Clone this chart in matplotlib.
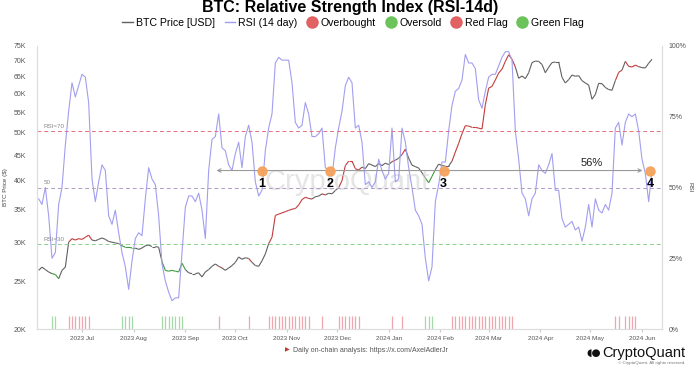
import pandas as pd
import matplotlib
matplotlib.use("Agg")
import matplotlib.pyplot as plt
import matplotlib.dates as mdates
from matplotlib.collections import LineCollection
from matplotlib.lines import Line2D
from matplotlib.ticker import FixedLocator, FuncFormatter, NullLocator

plt.rcParams['font.family'] = ['Liberation Sans', 'DejaVu Sans']

# data, one point every 2 days (2023-06-05 .. 2024-06-07)
dates = pd.date_range("2023-06-05", "2024-06-07", freq="2D")

price_k = [
    26.3, 26.7, 26.4, 26.1, 25.9, 25.8, 25.3, 26.3, 26.7, 30.0,
    30.5, 30.3, 30.5, 30.4, 30.7, 31.0, 30.3, 30.2, 30.4, 30.6,
    30.4, 30.1, 30.0, 29.9, 29.8, 29.5, 29.3, 29.3, 29.2, 29.2,
    29.0, 29.2, 29.5, 29.6, 29.4, 29.4, 29.3, 27.4, 26.3, 26.2,
    26.3, 26.2, 26.1, 27.2, 26.4, 26.0, 25.9, 25.9, 26.0, 25.5,
    26.1, 26.4, 26.8, 27.1, 26.8, 26.6, 26.3, 26.6, 26.9, 27.3,
    28.0, 27.7, 27.9, 27.8, 27.3, 26.9, 26.8, 27.5, 28.4, 29.8,
    30.7, 34.0, 34.2, 34.4, 34.6, 34.8, 35.0, 35.1, 35.7, 36.6,
    37.0, 36.8, 36.7, 37.1, 37.2, 37.6, 37.4, 37.7, 37.6, 38.2,
    38.7, 40.0, 42.9, 43.8, 43.8, 42.3, 42.0, 42.6, 42.3, 43.3,
    43.0, 42.7, 43.3, 42.9, 43.4, 43.1, 43.7, 44.0, 44.4, 45.2,
    46.3, 44.4, 43.0, 42.7, 42.4, 41.5, 40.5, 39.6, 40.8, 42.1,
    43.2, 42.9, 42.8, 42.8, 43.8, 45.7, 47.6, 49.8, 51.7, 51.6,
    51.3, 51.3, 51.1, 50.9, 57.0, 61.6, 62.1, 64.0, 66.1, 67.3,
    69.8, 72.0, 70.5, 68.0, 64.5, 65.2, 64.4, 66.2, 69.4, 69.9,
    69.8, 68.8, 66.2, 67.9, 69.4, 69.6, 69.6, 64.8, 63.1, 64.1,
    65.5, 65.1, 65.3, 63.8, 63.1, 62.5, 58.5, 59.8, 63.0, 62.9,
    61.8, 61.2, 61.0, 63.8, 66.3, 67.0, 69.8, 68.2, 68.0, 68.6,
    68.1, 67.8, 67.7, 69.2, 70.5,
]

rsi = [
    46, 44, 50, 40, 25, 27, 44, 50, 65, 77,
    87, 82, 86, 90, 89, 80, 53, 45, 52, 58,
    56, 40, 37, 42, 34, 27, 22, 14, 24, 32,
    34, 33, 46, 57, 53, 51, 40, 23, 17, 13,
    10, 11, 11, 27, 43, 47, 47, 45, 48, 42,
    32, 56, 67, 68, 76, 64, 63, 58, 56, 62,
    66, 57, 68, 72, 66, 52, 47, 49, 63, 71,
    76, 94, 96, 95, 95, 95, 87, 73, 71, 72,
    80, 76, 68, 68, 69, 71, 57, 56, 54, 64,
    71, 77, 86, 89, 87, 71, 72, 66, 51, 52,
    50, 52, 60, 56, 53, 55, 71, 52, 53, 71,
    66, 57, 50, 42, 40, 37, 25, 17, 22, 45,
    51, 59, 59, 70, 79, 84, 85, 88, 97, 94,
    94, 92, 81, 78, 84, 89, 90, 90, 93, 96,
    98, 98, 95, 70, 60, 48, 46, 40, 46, 48,
    58, 56, 55, 58, 62, 49, 49, 39, 36, 37,
    38, 35, 36, 31, 36, 44, 36, 46, 42, 41,
    44, 42, 48, 71, 73, 65, 73, 76, 75, 76,
    70, 60, 55, 45, 56,
]

overbought, oversold = 70, 30

marker_dates = pd.to_datetime(["2023-10-17", "2023-11-27", "2024-02-03", "2024-06-06"])
marker_labels = ["1", "2", "3", "4"]
marker_rsi = 56
arrow_start, arrow_end = pd.Timestamp("2023-09-18"), pd.Timestamp("2024-06-03")
gain_label = "56%"
gain_pos = (pd.Timestamp("2024-05-02"), 58.5)

price_ticks = [20, 25, 30, 35, 40, 45, 50, 55, 60, 65, 70, 75]
rsi_ticks = [0, 25, 50, 75, 100]

GRAY = "#606060"
RED = "#c23b3b"
GREEN = "#3f9b3f"
LAV = "#a29ef0"

fig = plt.figure(figsize=(7, 3.7), dpi=100)
ax = fig.add_axes([37 / 700, 41 / 370, 625 / 700, 283 / 370])
ax2 = ax.twinx()

x = mdates.date2num(dates)
prices = [p * 1000 for p in price_k]

# price line, coloured by RSI state
segs, cols = [], []
for i in range(len(x) - 1):
    segs.append([(x[i], prices[i]), (x[i + 1], prices[i + 1])])
    if rsi[i] > overbought:
        cols.append(RED)
    elif rsi[i] < oversold:
        cols.append(GREEN)
    else:
        cols.append(GRAY)
ax.add_collection(LineCollection(segs, colors=cols, linewidths=0.8, zorder=3))

# daily flags at the bottom
red_days = [d for d, r in zip(x, rsi) if r > overbought]
green_days = [d for d, r in zip(x, rsi) if r < oversold]
ax.vlines(red_days, 20000, 21300, color="#e0606c", alpha=0.55, lw=0.9)
ax.vlines(green_days, 20000, 21300, color="#5fb85f", alpha=0.55, lw=0.9)

ax.set_yscale("log")
ax.set_ylim(20000, 75000)
ax.set_xlim(mdates.date2num(pd.Timestamp("2023-06-04")), mdates.date2num(pd.Timestamp("2024-06-13")))
ax.yaxis.set_major_locator(FixedLocator([t * 1000 for t in price_ticks]))
ax.yaxis.set_minor_locator(NullLocator())
ax.yaxis.set_major_formatter(FuncFormatter(lambda v, p: f"{v / 1000:.0f}K"))

ax.xaxis.set_major_locator(mdates.MonthLocator())
ax.xaxis.set_major_formatter(mdates.DateFormatter("%Y %b"))

# RSI on the right axis
ax2.plot(x, rsi, color=LAV, lw=0.8, zorder=2)
ax2.set_ylim(0, 100)
ax2.yaxis.set_major_locator(FixedLocator(rsi_ticks))
ax2.yaxis.set_major_formatter(FuncFormatter(lambda v, p: f"{v:.0f}%"))

for lvl, c, lab in [(70, "#e8707c", "RSI=70"), (50, "#b09cc8", "50"), (30, "#8ccf8c", "RSI=30")]:
    ax2.axhline(lvl, color=c, lw=0.7, ls=(0, (4, 3)))
    ax2.text(mdates.date2num(pd.Timestamp("2023-06-08")), lvl + 0.8, lab,
             fontsize=4.5, color="#888888", va="bottom")

# annotation: arrow, markers, numbers
ax2.annotate("", xy=(mdates.date2num(arrow_end), marker_rsi),
             xytext=(mdates.date2num(arrow_start), marker_rsi),
             arrowprops=dict(arrowstyle="<->", color="#9a9a9a", lw=0.8, mutation_scale=6))
mx = mdates.date2num(marker_dates)
ax2.scatter(mx, [marker_rsi] * len(mx), s=42, color="#f5a25c", zorder=6, alpha=0.95)
for xi, lab in zip(mx, marker_labels):
    ax2.text(xi, marker_rsi - 4.6, lab, ha="center", va="center", fontsize=9,
             fontweight="bold", color="black", zorder=7)
ax2.text(mdates.date2num(gain_pos[0]), gain_pos[1], gain_label, ha="center",
         va="center", fontsize=8, color="#222222")

# watermark
ax2.text(0.497, 0.52, "CryptoQuant", transform=ax2.transAxes, ha="center", va="center",
         fontsize=21, color="#d4d4d4", alpha=0.6, zorder=1)

# styling
for a in (ax, ax2):
    a.spines["top"].set_visible(False)
    for s in ("left", "right", "bottom"):
        a.spines[s].set_color("#dddddd")
        a.spines[s].set_linewidth(0.8)
ax.tick_params(axis="y", length=0, labelsize=5, labelcolor="#555555", pad=8)
ax2.tick_params(axis="y", length=0, labelsize=5, labelcolor="#555555", pad=5)
ax.tick_params(axis="x", length=2, color="#cccccc", labelsize=4.6, labelcolor="#555555", pad=3)
ax.set_ylabel("BTC Price ($)", fontsize=4.5, color="#444444", labelpad=4)
ax2.set_ylabel("RSI", fontsize=4.5, color="#444444", rotation=270, va="center")
ax2.yaxis.set_label_coords(1.045, 0.5)

# title and legend
fig.text(0.5, 0.979, "BTC: Relative Strength Index (RSI-14d)", ha="center", va="center",
         fontsize=11.5, fontweight="bold")
handles = [
    Line2D([0], [0], color=GRAY, lw=1),
    Line2D([0], [0], color=LAV, lw=1),
    Line2D([0], [0], marker="o", lw=0, markersize=8, color="#e06262"),
    Line2D([0], [0], marker="o", lw=0, markersize=8, color="#6cc35c"),
    Line2D([0], [0], marker="o", lw=0, markersize=8, color="#e06262"),
    Line2D([0], [0], marker="o", lw=0, markersize=8, color="#6cc35c"),
]
labels = ["BTC Price [USD]", "RSI (14 day)", "Overbought", "Oversold", "Red Flag", "Green Flag"]
fig.legend(handles, labels, loc="center", bbox_to_anchor=(0.504, 0.938), ncol=6, frameon=False,
           fontsize=7.6, handlelength=1.0, handletextpad=0.3, columnspacing=0.9)

# footer
fig.text(0.414, 0.054, "\u25b6", fontsize=4.5, color="#c0392b", ha="right", va="center",
         family=["DejaVu Sans"])
fig.text(0.418, 0.054, "Daily on-chain analysis: https://x.com/AxelAdlerJr", fontsize=5,
         color="#555555", va="center")
fig.text(0.979, 0.046, "CryptoQuant", fontsize=10.5, ha="right", va="center", color="#111111")
fig.text(0.858, 0.046, "\u25d6\u25cf", fontsize=7.5, ha="right", va="center", color="#111111",
         family=["DejaVu Sans"])
fig.text(0.979, 0.018, "\u00a9 CryptoQuant. All rights reserved.", fontsize=3.2, ha="right",
         va="center", color="#777777")

fig.savefig("out.png", dpi=100)
